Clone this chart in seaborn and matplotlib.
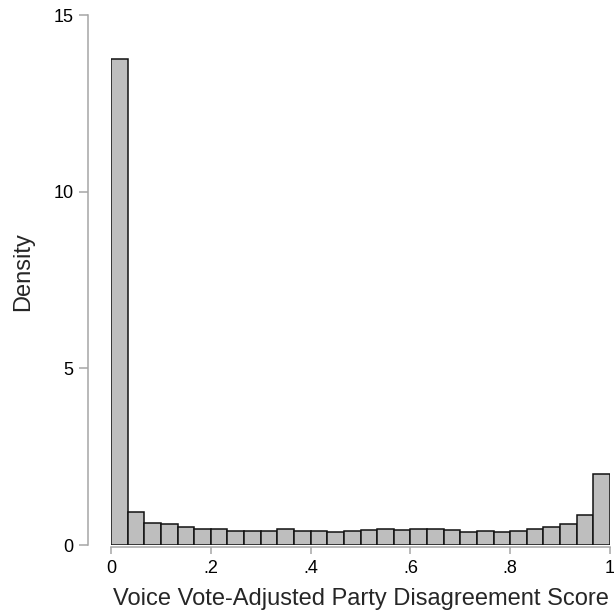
import numpy as np
import pandas as pd
import matplotlib
matplotlib.use("Agg")
import matplotlib.pyplot as plt
import seaborn as sns

# Histogram of the disagreement score: 30 equal-width bins on [0, 1]
n_bins = 30
bin_edges = [i / n_bins for i in range(n_bins + 1)]
density = [13.75, 0.92, 0.63, 0.59, 0.50, 0.46, 0.445, 0.41, 0.41, 0.41,
           0.44, 0.41, 0.39, 0.37, 0.41, 0.42, 0.44, 0.42, 0.46, 0.44,
           0.43, 0.37, 0.41, 0.37, 0.40, 0.46, 0.52, 0.60, 0.86, 2.02]

x_ticks = [0, 0.2, 0.4, 0.6, 0.8, 1.0]
x_tick_labels = ["0", ".2", ".4", ".6", ".8", "1"]
y_ticks = [0, 5, 10, 15]
y_tick_labels = ["0", "5", "10", "15"]

x_label = "Voice Vote-Adjusted Party Disagreement Score"
y_label = "Density"

edges = np.array(bin_edges)
df = pd.DataFrame({
    "center": (edges[:-1] + edges[1:]) / 2,
    "density": density,
})

sns.set_style("white")
plt.rcParams["font.family"] = ["Liberation Sans", "DejaVu Sans"]

dpi = 100
fig = plt.figure(figsize=(6.14, 6.15), dpi=dpi)
ax = fig.add_axes([111 / 614, 70 / 615, 499 / 614, 530 / 615])

sns.histplot(data=df, x="center", weights="density", bins=bin_edges,
             stat="count", color="#bebebe", alpha=1.0,
             edgecolor="#111111", linewidth=1.1, ax=ax)

ax.set_xlim(0, 1)
ax.set_ylim(0, 15)

axis_gray = "#a6a6a6"
for side in ("top", "right"):
    ax.spines[side].set_visible(False)
ax.spines["left"].set_position(("outward", 16.5))
ax.spines["bottom"].set_position(("outward", 1.2))
ax.spines["left"].set_bounds(0, 15)
ax.spines["bottom"].set_bounds(0, 1)
for side in ("left", "bottom"):
    ax.spines[side].set_color(axis_gray)
    ax.spines[side].set_linewidth(1.1)

ax.set_xticks(x_ticks)
ax.set_xticklabels(x_tick_labels)
ax.set_yticks(y_ticks)
ax.set_yticklabels(y_tick_labels)
ax.tick_params(axis="both", which="major", direction="out", width=1.1,
               color=axis_gray, labelsize=13, labelcolor="black",
               bottom=True, left=True)
ax.tick_params(axis="x", length=5, pad=4.5)
ax.tick_params(axis="y", length=6.5, pad=4)

ax.set_xlabel(x_label, fontsize=17, labelpad=8)
ax.set_ylabel(y_label, fontsize=17)
ax.yaxis.set_label_coords(-0.154, 0.515)

fig.savefig("out.png", dpi=dpi, facecolor="white")
